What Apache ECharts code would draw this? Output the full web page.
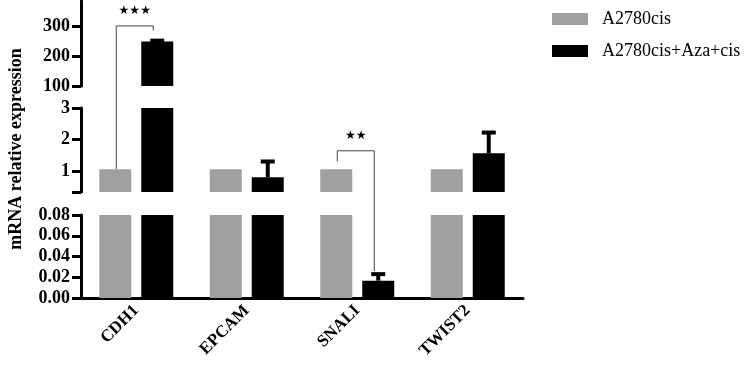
<!DOCTYPE html>
<html>
<head>
<meta charset="utf-8">
<script src="https://cdn.jsdelivr.net/npm/echarts@6/dist/echarts.min.js"></script>
<style>
  html, body { margin: 0; padding: 0; background: #fff; }
  #main { width: 749px; height: 368px; }
</style>
</head>
<body>
<div id="main"></div>
<script>
    // genes and groups
    var genes = ["CDH1", "EPCAM", "SNALI", "TWIST2"];
    var groupNames = ["A2780cis", "A2780cis+Aza+cis"];
    var control = [1.05, 1.05, 1.05, 1.05];
    var treated = [248, 0.8, 0.0167, 1.56];
    var treatedErr = [251, 1.3, 0.023, 2.22];

    // broken y axis: top, middle, bottom pieces
    var segMin = [100, 0.33, 0];
    var segMax = [383, 3, 0.08];
    var segTicks = [[100, 200, 300], [1, 2, 3], [0, 0.02, 0.04, 0.06, 0.08]];

    // significance brackets
    var sigGene = [0, 2];
    var sigStars = ["★★★", "★★"];
    var sigTop = [[0, 300], [1, 1.64]];        // [piece, value]
    var sigLeftEnd = [[1, 1.05], [1, 1.3]];
    var sigRightEnd = [[0, 285], [2, 0.026]];

    var serif = "Liberation Serif";
    var gray = "#a0a0a0";
    var barW = 32, barGapPx = 10;
    var offs = barW / 2 + barGapPx / 2;

    var grids = [
        { left: 81, width: 442, top: 1, height: 85 },
        { left: 81, width: 442, top: 108, height: 84 },
        { left: 81, width: 442, top: 215, height: 83 }
    ];

    var xAxes = [], yAxes = [], series = [];
    for (var i = 0; i < 3; i++) {
        var last = i === 2;
        xAxes.push({
            type: "category",
            gridIndex: i,
            data: genes,
            show: last,
            axisLine: { lineStyle: { color: "#000", width: 3 } },
            axisTick: { alignWithLabel: true, length: 7, lineStyle: { color: "#000", width: 3 } },
            axisLabel: {
                rotate: 45, margin: 10, color: "#000",
                fontFamily: serif, fontWeight: "bold", fontSize: 17
            }
        });
        var tickVals = segTicks[i].slice();
        if (i === 1) tickVals.unshift(segMin[1]);
        yAxes.push({
            type: "value",
            gridIndex: i,
            min: segMin[i],
            max: segMax[i],
            splitLine: { show: false },
            axisLine: { show: true, lineStyle: { color: "#000", width: 3 } },
            axisTick: { show: true, length: 9, customValues: tickVals, lineStyle: { color: "#000", width: 3 } },
            axisLabel: {
                customValues: segTicks[i], margin: 11, color: "#000",
                fontFamily: serif, fontWeight: "bold", fontSize: 18,
                formatter: last ? function (v) { return v.toFixed(2); } : function (v) { return String(v); }
            }
        });
        series.push({
            name: groupNames[0], type: "bar", xAxisIndex: i, yAxisIndex: i,
            barWidth: barW, barGap: (barGapPx / barW * 100) + "%",
            itemStyle: { color: gray }, data: control, clip: true
        });
        series.push({
            name: groupNames[1], type: "bar", xAxisIndex: i, yAxisIndex: i,
            barWidth: barW,
            itemStyle: { color: "#000" }, data: treated, clip: true
        });
        (function (seg) {
            series.push({
                type: "custom", xAxisIndex: seg, yAxisIndex: seg, z: 5,
                data: genes.map(function (g, k) { return [k, treated[k], treatedErr[k]]; }),
                renderItem: function (params, api) {
                    var v = api.value(1), e = api.value(2);
                    if (v < segMin[seg] || v > segMax[seg]) return;
                    var p = api.coord([api.value(0), v]);
                    var q = api.coord([api.value(0), e]);
                    var x = p[0] + offs;
                    return {
                        type: "group",
                        children: [
                            { type: "rect", shape: { x: x - 2, y: q[1], width: 4, height: p[1] - q[1] }, style: { fill: "#000" } },
                            { type: "rect", shape: { x: x - 7, y: q[1] - 2, width: 14, height: 4 }, style: { fill: "#000" } }
                        ]
                    };
                }
            });
        })(i);
    }

    var chart = echarts.init(document.getElementById("main"));
    chart.setOption({
        backgroundColor: "#fff",
        animation: false,
        grid: grids,
        xAxis: xAxes,
        yAxis: yAxes,
        legend: {
            data: groupNames,
            orient: "vertical",
            left: 552, top: 10,
            padding: 0,
            icon: "rect",
            itemWidth: 36, itemHeight: 12,
            itemGap: 14,
            textStyle: { fontFamily: serif, fontSize: 18, color: "#000", padding: [0, 0, 0, 9] }
        },
        series: series
    });

    // brackets, stars and the y title
    var graphics = [{
        type: "text", x: 16, y: 149, rotation: Math.PI / 2,
        style: {
            text: "mRNA relative expression", fontFamily: serif, fontWeight: "bold",
            fontSize: 18, fill: "#000", align: "center", verticalAlign: "middle"
        }
    }];
    var px = function (pt, k) { return chart.convertToPixel({ gridIndex: pt[0] }, [k, pt[1]]); };
    for (var s = 0; s < sigGene.length; s++) {
        var k = sigGene[s];
        var c = chart.convertToPixel({ gridIndex: 2 }, [k, 0])[0];
        var xl = c - offs + 1, xr = c + offs - 4;
        var yt = px(sigTop[s], k)[1];
        var yl = px(sigLeftEnd[s], k)[1];
        var yr = px(sigRightEnd[s], k)[1];
        graphics.push({
            type: "polyline",
            shape: { points: [[xl, yl], [xl, yt], [xr, yt], [xr, yr]] },
            style: { stroke: "#444", lineWidth: 1, fill: null }
        });
        graphics.push({
            type: "text", x: (xl + xr) / 2, y: yt - 15,
            style: { text: sigStars[s], fontFamily: "DejaVu Sans", fontSize: 12, fill: "#000", align: "center", verticalAlign: "middle" }
        });
    }
    chart.setOption({ graphic: graphics });
</script>
</body>
</html>
